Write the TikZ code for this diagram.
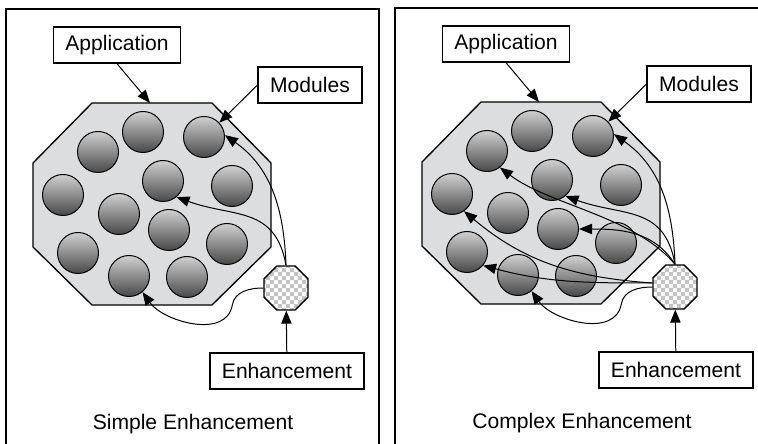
\documentclass[tikz,border=0pt]{standalone}
\usepackage{fontspec}
\setmainfont{Liberation Sans}
\usetikzlibrary{shapes.geometric,arrows.meta,patterns}

\definecolor{appfill}{HTML}{DCDDDF}
\definecolor{modtop}{HTML}{D0D0D0}
\definecolor{modbot}{HTML}{484848}
\definecolor{checker}{HTML}{C4C4C4}

% checkerboard with bigger cells than the one of the library
\pgfdeclarepatternformonly{bigchecker}{\pgfpointorigin}{\pgfqpoint{6.8pt}{6.8pt}}{\pgfqpoint{6.8pt}{6.8pt}}{%
  \pgfpathrectangle{\pgfpointorigin}{\pgfqpoint{3.4pt}{3.4pt}}%
  \pgfpathrectangle{\pgfqpoint{3.4pt}{3.4pt}}{\pgfqpoint{3.4pt}{3.4pt}}%
  \pgfusepath{fill}}

% one panel: frame, application with its modules, enhancement
\newcommand{\enhpanel}[1]{%
  \draw[line width=0.4mm] (6,434) rectangle (379,-40);
  \draw[line width=0.4mm, fill=appfill] (92,340) -- (212,340) -- (271,280) -- (271,196)
    -- (212,138) -- (92,138) -- (33,196) -- (33,280) -- cycle;
  \coordinate (apptop) at (150,340);
  \foreach \i/\x/\y in {1/143/311, 2/204/306, 3/98/291, 4/163/262, 5/232/257, 6/63/248,
                        7/119/229, 8/169/213, 9/227/199, 10/78/190, 11/129/167, 12/187/166}
    \node[module] (m\i) at (\x,\y) {};
  \node[tag] (app) at (117,398) {Application};
  \node[tag] (mods) at (310,358) {Modules};
  \node[enhance] (enh) at (286,155) {};
  \node[tag] (enhbox) at (287,72) {Enhancement};
  \node (caption) at (193,19) {#1};
  \draw[link] (app.south) -- (apptop);
  \draw[link] (mods.west) -- (m2.43);
  \draw[link] (enhbox) -- (enh);
  \draw[link] (enh.north) to[out=92,in=-35] (m2.5);
  \draw[link] (enh.west) to[out=180,in=80] +(-31,-17) to[out=-100,in=-55] (m11.-50);
}

\begin{document}
\begin{tikzpicture}[x=0.3mm, y=0.3mm, >={Triangle[length=3.9mm,width=3.1mm]},
    font=\fontsize{18pt}{21pt}\selectfont,
    tag/.style={draw, line width=0.4mm, fill=white, minimum height=10.8mm, inner xsep=3.6mm},
    module/.style={circle, draw, line width=0.3mm, minimum size=12.3mm,
                   top color=modtop, bottom color=modbot},
    enhance/.style={regular polygon, regular polygon sides=8, draw, line width=0.4mm,
                    minimum size=14.3mm, inner sep=0pt, preaction={fill=white},
                    pattern=bigchecker, pattern color=checker},
    link/.style={->, line width=0.3mm}]
  \useasboundingbox (0,0) rectangle (758,443);
  \clip (0,0) rectangle (758,443);

  % simple: one more module
  \begin{scope}[name prefix=s-]
    \enhpanel{Simple Enhancement}
    \draw[link] (enh.north) to[out=100,in=-20,looseness=1.2] (m4.-50);
  \end{scope}

  % complex: many modules touched
  \begin{scope}[shift={(389,1)}, name prefix=c-]
    \enhpanel{Complex Enhancement}
    \draw[link] (enh.north) to[out=130,in=-37,looseness=0.8] (m3.-52);
    \draw[link] (enh.north) to[out=100,in=-20,looseness=1.2] (m4.-50);
    \draw[link] (enh.north) to[out=122,in=0] (m8.east);
    \draw[link] (enh.170) to[out=176,in=-40] (m6.-55);
    \draw[link] (enh.170) to[out=180,in=-15] (m10.-40);
  \end{scope}
\end{tikzpicture}
\end{document}
